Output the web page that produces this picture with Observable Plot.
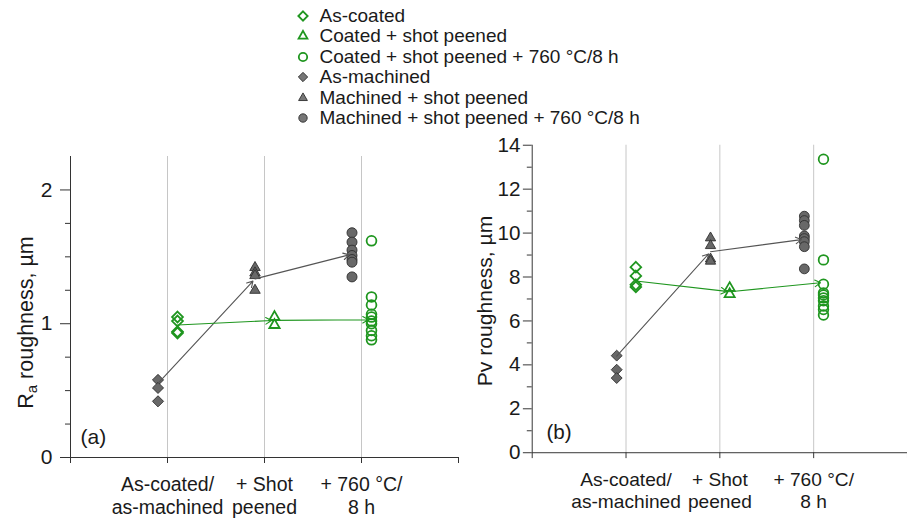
<!DOCTYPE html>
<html>
<head>
<meta charset="utf-8">
<script src="https://cdn.jsdelivr.net/npm/d3@7"></script>
<script src="https://cdn.jsdelivr.net/npm/@observablehq/plot@0.6"></script>
<style>
  html, body { margin: 0; padding: 0; background: #fff; overflow: hidden; }
  #page { position: relative; width: 907px; height: 519px; overflow: hidden;
          font-family: "Liberation Sans", Arial, sans-serif; color: #1a1a1a; }
  #legend { position: absolute; left: 296px; top: 5.5px; font-size: 19px; }
  .row { height: 20.5px; display: flex; align-items: center; white-space: nowrap; }
  .row svg { width: 14px; height: 14px; margin-right: 9.5px; flex: none; }
  #panelA { position: absolute; left: 0; top: 140px; }
  #panelB { position: absolute; left: 460px; top: 130px; }
</style>
</head>
<body>
<div id="page">
  <div id="legend"></div>
  <div id="panelA"></div>
  <div id="panelB"></div>
</div>
<script>
// Processing stages along the x axis
const stages = ["As-coated/\nas-machined", "+ Shot\npeened", "+ 760 °C/\n8 h"];

const legendLabels = [
  "As-coated",
  "Coated + shot peened",
  "Coated + shot peened + 760 °C/8 h",
  "As-machined",
  "Machined + shot peened",
  "Machined + shot peened + 760 °C/8 h"
];

// Ra roughness (µm), one list of measurements per stage
const raCoated = [
  [1.05, 1.02, 0.94, 0.93],
  [1.05, 0.99],
  [1.62, 1.20, 1.14, 1.07, 1.05, 1.02, 1.00, 0.95, 0.91, 0.88]
];
const raMachined = [
  [0.58, 0.52, 0.42],
  [1.42, 1.38, 1.36, 1.25],
  [1.68, 1.61, 1.55, 1.51, 1.48, 1.46, 1.35]
];
// stage-to-stage trend values (arrows)
const raCoatedTrend = [0.99, 1.025, 1.03];
const raMachinedTrend = [0.555, 1.335, 1.52];

// Pv roughness (µm)
const pvCoated = [
  [8.45, 8.05, 7.65, 7.55],
  [7.50, 7.22],
  [13.36, 8.78, 7.67, 7.27, 7.18, 7.05, 6.92, 6.68, 6.52, 6.27]
];
const pvMachined = [
  [4.42, 3.78, 3.40],
  [9.78, 9.43, 8.82, 8.72],
  [10.77, 10.57, 10.35, 9.87, 9.75, 9.61, 9.38, 8.37]
];
const pvCoatedTrend = [7.82, 7.33, 7.75];
const pvMachinedTrend = [4.40, 9.15, 9.72];

// Tick values
const raMajor = [0, 1, 2];
const raMinor = [0.25, 0.5, 0.75, 1.25, 1.5, 1.75];
const pvMajor = [0, 2, 4, 6, 8, 10, 12, 14];
const pvMinor = [1, 3, 5, 7, 9, 11, 13];

const GREEN = "#1f961f";
const GREY = "#686868";
const EDGE = "#2e2e2e";
const GRID = "#c6c6c6";
const SYMBOLS = ["diamond2", "triangle2", "circle"];
const D3SYMBOLS = {diamond2: d3.symbolDiamond2, triangle2: d3.symbolTriangle2, circle: d3.symbolCircle};

const segments = (trend) => trend.slice(1).map((v, i) => ({x1: i + 1, y1: trend[i], x2: i + 2, y2: v}));

function panel(o) {
  const marks = [
    Plot.ruleX([1, 2, 3], {stroke: GRID, strokeWidth: 1}),
    Plot.ruleX([0], {stroke: "#333"}),
    Plot.ruleY([0], {stroke: "#333"}),
    Plot.axisY({ticks: o.minor, tickSize: 5, tickFormat: () => "", label: null, stroke: "#333"}),
    Plot.axisY({ticks: o.major, tickSize: o.tickSize, tickPadding: o.tickPadding, tickFormat: (d) => String(d),
                fontSize: 21, label: null, stroke: "#333"}),
    Plot.axisX({ticks: [0, 1, 2, 3, 4], tickSize: 6, tickPadding: 11.5,
                tickFormat: (d) => stages[d - 1] ?? "", fontSize: 19.5, lineHeight: 1.17,
                label: null, stroke: "#333"}),
    Plot.text([o.tag], {frameAnchor: "bottom-left", dx: o.tagDx, dy: -14, textAnchor: "start",
                        lineAnchor: "bottom", fontSize: 21})
  ];
  for (let s = 0; s < 3; s++) {
    marks.push(Plot.dot(o.machined[s], {x: () => s + 1, y: (d) => d, symbol: SYMBOLS[s], r: 5,
                                        fill: GREY, stroke: EDGE, strokeWidth: 0.9, dx: -9.5}));
    marks.push(Plot.dot(o.coated[s], {x: () => s + 1, y: (d) => d, symbol: SYMBOLS[s], r: 4.9,
                                      fill: "none", stroke: GREEN, strokeWidth: 1.8, dx: 10}));
  }
  marks.push(Plot.arrow(segments(o.machinedTrend), {x1: "x1", y1: "y1", x2: "x2", y2: "y2",
    stroke: "#555", strokeWidth: 1.1, headLength: 9, insetEnd: 3, dx: -9.5}));
  marks.push(Plot.arrow(segments(o.coatedTrend), {x1: "x1", y1: "y1", x2: "x2", y2: "y2",
    stroke: GREEN, strokeWidth: 1.1, headLength: 9, insetEnd: 3, dx: 10}));

  const chart = Plot.plot({
    width: o.width, height: o.height,
    marginLeft: o.marginLeft, marginRight: o.marginRight, marginTop: o.marginTop, marginBottom: o.marginBottom,
    x: {domain: [0, 4]},
    y: {domain: [0, o.yMax]},
    style: {fontFamily: '"Liberation Sans", Arial, sans-serif', color: "#1a1a1a", background: "transparent", overflow: "visible"},
    marks
  });

  // y axis title with subscript
  const t = d3.select(chart).append("text")
    .attr("transform", `translate(${o.titleX},${o.titleY}) rotate(-90)`)
    .attr("text-anchor", "middle")
    .attr("font-size", 21.5)
    .attr("fill", "#1a1a1a");
  t.append("tspan").text(o.title[0]);
  if (o.title[1]) {
    t.append("tspan").attr("font-size", "0.7em").attr("dy", "0.28em").text(o.title[1]);
    t.append("tspan").attr("dy", "-0.2em").text(o.title[2]);
  } else {
    t.append("tspan").text(o.title[2]);
  }
  return chart;
}

document.getElementById("panelA").append(panel({
  coated: raCoated, machined: raMachined, coatedTrend: raCoatedTrend, machinedTrend: raMachinedTrend,
  yMax: 2.25, major: raMajor, minor: raMinor, tickSize: 10, tickPadding: 8,
  width: 460, height: 379, marginLeft: 70, marginRight: 2, marginTop: 16, marginBottom: 62,
  tag: "(a)", tagDx: 10, title: ["R", "a", " roughness, µm"], titleX: 33, titleY: 182.5
}));

document.getElementById("panelB").append(panel({
  coated: pvCoated, machined: pvMachined, coatedTrend: pvCoatedTrend, machinedTrend: pvMachinedTrend,
  yMax: 14, major: pvMajor, minor: pvMinor, tickSize: 9, tickPadding: 3,
  width: 455, height: 389, marginLeft: 73, marginRight: 0, marginTop: 15, marginBottom: 61,
  tag: "(b)", tagDx: 14.5, title: ["Pv", null, " roughness, µm"], titleX: 33, titleY: 174
}));

// Legend
const legend = d3.select("#legend");
legendLabels.forEach((label, i) => {
  const coated = i < 3;
  const row = legend.append("div").attr("class", "row");
  const svg = row.append("svg").attr("viewBox", "-7 -7 14 14");
  svg.append("path")
    .attr("d", d3.symbol(D3SYMBOLS[SYMBOLS[i % 3]], Math.PI * 4.2 * 4.2)())
    .attr("fill", coated ? "none" : "#777")
    .attr("stroke", coated ? GREEN : EDGE)
    .attr("stroke-width", coated ? 1.8 : 0.9);
  row.append("span").text(label);
});
</script>
</body>
</html>
